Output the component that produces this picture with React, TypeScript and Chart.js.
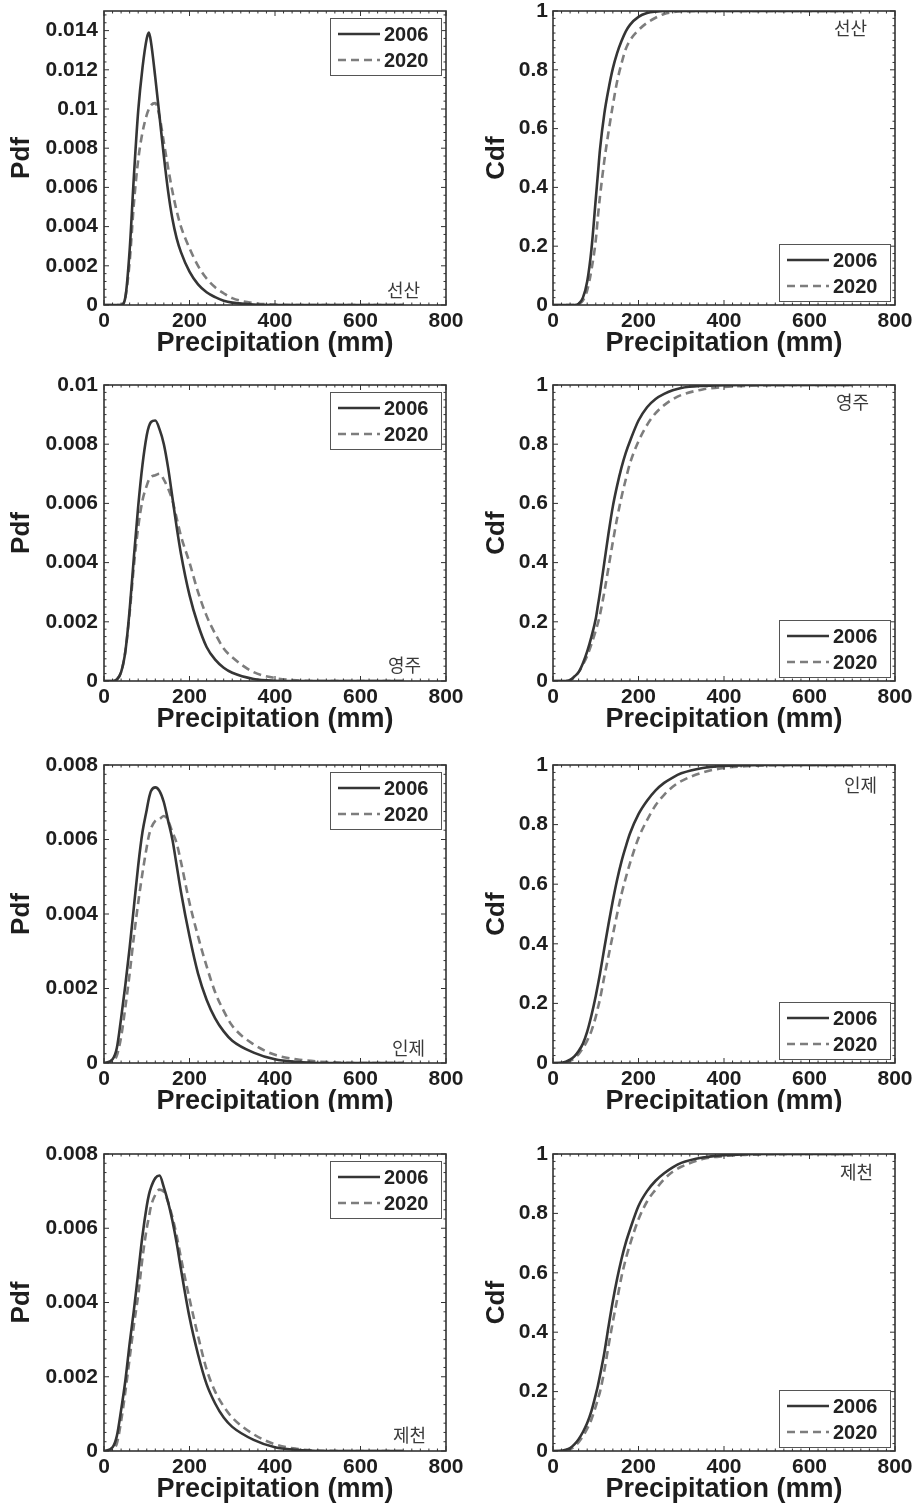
import React, { useEffect, useRef } from "react";
import { Chart, registerables } from "chart.js";

Chart.register(...registerables);

// ---------------- DATA ----------------
const precipitationMm = [0, 20, 30, 40, 50, 60, 70, 80, 90, 100, 105, 110, 120, 130, 140, 150, 160, 170, 180, 200, 220, 240, 260, 280, 300, 350, 400, 450, 500, 600, 700];

const years = ["2006", "2020"];
const stations = ["선산", "영주", "인제", "제천"];

const seonsanPdf2006 = [0, 0, 0, 0, 0.0004, 0.0028, 0.0066, 0.0099, 0.0121, 0.0136, 0.0139, 0.0134, 0.0116, 0.0096, 0.0076, 0.0058, 0.0044, 0.0034, 0.0027, 0.0017, 0.00105, 0.00065, 0.0004, 0.00022, 0.00012, 0.00002, 0, 0, 0, 0, 0];
const seonsanPdf2020 = [0, 0, 0, 0, 0.0004, 0.0022, 0.0052, 0.0074, 0.0088, 0.0097, 0.01, 0.0102, 0.0103, 0.0096, 0.0083, 0.007, 0.0058, 0.0048, 0.004, 0.0029, 0.002, 0.00135, 0.0009, 0.0006, 0.00035, 0.0001, 0.00002, 0, 0, 0, 0];
const seonsanCdf2006 = [0, 0, 0, 0, 0, 0.004, 0.025, 0.08, 0.19, 0.36, 0.445, 0.53, 0.65, 0.735, 0.805, 0.857, 0.897, 0.93, 0.953, 0.98, 0.993, 0.998, 1, 1, 1, 1, 1, 1, 1, 1, 1];
const seonsanCdf2020 = [0, 0, 0, 0, 0, 0.003, 0.015, 0.05, 0.12, 0.22, 0.3, 0.37, 0.49, 0.59, 0.68, 0.76, 0.82, 0.87, 0.9, 0.935, 0.96, 0.977, 0.99, 0.996, 0.999, 1, 1, 1, 1, 1, 1];

const yeongjuPdf2006 = [0, 0, 0.00005, 0.0003, 0.001, 0.0024, 0.0042, 0.0059, 0.0073, 0.0083, 0.0086, 0.00875, 0.0088, 0.0085, 0.008, 0.0072, 0.0062, 0.0052, 0.0043, 0.0029, 0.0019, 0.00115, 0.00072, 0.00045, 0.00028, 0.00007, 0.00001, 0, 0, 0, 0];
const yeongjuPdf2020 = [0, 0, 0.00005, 0.0003, 0.001, 0.0023, 0.0039, 0.0052, 0.0061, 0.0066, 0.0068, 0.0069, 0.00695, 0.007, 0.0068, 0.0065, 0.0061, 0.0055, 0.0049, 0.004, 0.003, 0.0022, 0.0016, 0.0011, 0.0008, 0.0003, 0.0001, 0.00002, 0, 0, 0];
const yeongjuCdf2006 = [0, 0, 0, 0.003, 0.015, 0.03, 0.06, 0.1, 0.15, 0.21, 0.255, 0.3, 0.4, 0.5, 0.59, 0.66, 0.72, 0.77, 0.81, 0.88, 0.925, 0.953, 0.97, 0.982, 0.99, 0.997, 0.999, 1, 1, 1, 1];
const yeongjuCdf2020 = [0, 0, 0, 0.003, 0.013, 0.03, 0.055, 0.085, 0.125, 0.17, 0.195, 0.225, 0.3, 0.385, 0.47, 0.55, 0.62, 0.68, 0.735, 0.81, 0.865, 0.905, 0.932, 0.952, 0.966, 0.985, 0.993, 0.997, 0.999, 1, 1];

const injePdf2006 = [0, 0.0001, 0.0004, 0.0012, 0.0021, 0.0031, 0.0042, 0.0053, 0.0062, 0.0068, 0.0071, 0.0073, 0.0074, 0.0073, 0.007, 0.0065, 0.006, 0.0053, 0.0046, 0.0034, 0.0024, 0.0017, 0.0012, 0.00085, 0.0006, 0.00028, 0.0001, 0.00003, 0, 0, 0];
const injePdf2020 = [0, 0.00005, 0.0002, 0.0007, 0.0015, 0.0024, 0.0034, 0.0043, 0.0051, 0.0058, 0.0061, 0.0063, 0.0065, 0.00655, 0.00663, 0.0065, 0.0062, 0.0059, 0.0054, 0.0043, 0.0034, 0.0026, 0.0019, 0.0014, 0.001, 0.0005, 0.00022, 0.0001, 0.00004, 0, 0];
const injeCdf2006 = [0, 0.001, 0.004, 0.011, 0.022, 0.04, 0.065, 0.105, 0.16, 0.225, 0.262, 0.3, 0.385, 0.467, 0.545, 0.615, 0.675, 0.725, 0.77, 0.835, 0.88, 0.915, 0.94, 0.958, 0.972, 0.99, 0.997, 0.999, 1, 1, 1];
const injeCdf2020 = [0, 0.0005, 0.002, 0.007, 0.016, 0.03, 0.05, 0.075, 0.108, 0.155, 0.185, 0.215, 0.29, 0.36, 0.43, 0.5, 0.565, 0.62, 0.67, 0.755, 0.815, 0.865, 0.9, 0.927, 0.946, 0.975, 0.99, 0.996, 0.999, 1, 1];

const jecheonPdf2006 = [0, 0.0001, 0.0004, 0.0011, 0.0019, 0.0029, 0.0038, 0.0048, 0.0058, 0.0066, 0.0069, 0.0071, 0.00735, 0.00742, 0.0071, 0.0067, 0.0062, 0.0056, 0.0049, 0.0036, 0.0026, 0.0018, 0.00128, 0.0009, 0.00065, 0.0003, 0.0001, 0.00003, 0, 0, 0];
const jecheonPdf2020 = [0, 0.00005, 0.0002, 0.0008, 0.0016, 0.0025, 0.0034, 0.0042, 0.0052, 0.006, 0.0063, 0.0066, 0.0069, 0.00704, 0.00698, 0.0067, 0.0063, 0.0058, 0.0052, 0.0041, 0.0031, 0.0022, 0.0016, 0.0012, 0.0009, 0.00045, 0.00018, 0.00006, 0.00001, 0, 0];
const jecheonCdf2006 = [0, 0.001, 0.004, 0.01, 0.022, 0.04, 0.064, 0.094, 0.135, 0.19, 0.22, 0.255, 0.33, 0.42, 0.505, 0.58, 0.645, 0.7, 0.745, 0.825, 0.875, 0.91, 0.935, 0.955, 0.97, 0.988, 0.996, 0.999, 1, 1, 1];
const jecheonCdf2020 = [0, 0.0005, 0.002, 0.006, 0.015, 0.03, 0.05, 0.075, 0.107, 0.15, 0.175, 0.2, 0.27, 0.355, 0.435, 0.51, 0.585, 0.645, 0.695, 0.78, 0.84, 0.88, 0.915, 0.94, 0.957, 0.983, 0.993, 0.997, 0.999, 1, 1];

const xTicks = [0, 200, 400, 600, 800];
const pdfTicksSeonsan = [0, 0.002, 0.004, 0.006, 0.008, 0.01, 0.012, 0.014];
const pdfTicksYeongju = [0, 0.002, 0.004, 0.006, 0.008, 0.01];
const pdfTicksLow = [0, 0.002, 0.004, 0.006, 0.008];
const cdfTicks = [0, 0.2, 0.4, 0.6, 0.8, 1];

const xTitle = "Precipitation (mm)";

// ---------------- LAYOUT ----------------
const ROW_TOP = [11, 385, 765, 1154];
const ROW_BOTTOM = [305, 681, 1063, 1451];
const COL_PLOT_LEFT = [104, 553];
const COL_PLOT_RIGHT = [446, 895];
const COL_CANVAS_LEFT = [0, 460];
const COL_CANVAS_W = [475, 457];
const ROW_CLIP_BOTTOM = [369, 748, 1112, 1504];
const PAD_TOP = 14;
const X_AXIS_H = 60;

const FONT = "'Liberation Sans', Arial, sans-serif";
const TICK_FONT = { family: FONT, size: 21, weight: "bold" as const };
const SOLID = "#353535";
const DASHED = "#7d7d7d";

type Panel = {
  row: number;
  col: number;
  kind: "pdf" | "cdf";
  station: string;
  s2006: number[];
  s2020: number[];
  yMax: number;
  yTicks: number[];
  yMinor: number;
  labelInset: number;
  labelOffset: number;
};

const panels: Panel[] = [
  { row: 0, col: 0, kind: "pdf", station: stations[0], s2006: seonsanPdf2006, s2020: seonsanPdf2020, yMax: 0.015, yTicks: pdfTicksSeonsan, yMinor: 0.0004, labelInset: 26, labelOffset: 15 },
  { row: 0, col: 1, kind: "cdf", station: stations[0], s2006: seonsanCdf2006, s2020: seonsanCdf2020, yMax: 1, yTicks: cdfTicks, yMinor: 0.025, labelInset: 28, labelOffset: 17 },
  { row: 1, col: 0, kind: "pdf", station: stations[1], s2006: yeongjuPdf2006, s2020: yeongjuPdf2020, yMax: 0.01, yTicks: pdfTicksYeongju, yMinor: 0.00025, labelInset: 25, labelOffset: 16 },
  { row: 1, col: 1, kind: "cdf", station: stations[1], s2006: yeongjuCdf2006, s2020: yeongjuCdf2020, yMax: 1, yTicks: cdfTicks, yMinor: 0.025, labelInset: 26, labelOffset: 17.5 },
  { row: 2, col: 0, kind: "pdf", station: stations[2], s2006: injePdf2006, s2020: injePdf2020, yMax: 0.008, yTicks: pdfTicksLow, yMinor: 0.00025, labelInset: 21, labelOffset: 15 },
  { row: 2, col: 1, kind: "cdf", station: stations[2], s2006: injeCdf2006, s2020: injeCdf2020, yMax: 1, yTicks: cdfTicks, yMinor: 0.025, labelInset: 18, labelOffset: 20.5 },
  { row: 3, col: 0, kind: "pdf", station: stations[3], s2006: jecheonPdf2006, s2020: jecheonPdf2020, yMax: 0.008, yTicks: pdfTicksLow, yMinor: 0.00025, labelInset: 20, labelOffset: 15.5 },
  { row: 3, col: 1, kind: "cdf", station: stations[3], s2006: jecheonCdf2006, s2020: jecheonCdf2020, yMax: 1, yTicks: cdfTicks, yMinor: 0.025, labelInset: 22, labelOffset: 18.5 },
];

function makeFramePlugin(panel: Panel) {
  return {
    id: "matlabFrame",
    afterDatasetsDraw(chart: any) {
      const { ctx, chartArea: a, scales } = chart;
      const xs = scales.x;
      const ys = scales.y;
      const line = (x1: number, y1: number, x2: number, y2: number) => {
        ctx.beginPath();
        ctx.moveTo(x1, y1);
        ctx.lineTo(x2, y2);
        ctx.stroke();
      };
      ctx.save();
      ctx.strokeStyle = "#333";
      ctx.lineWidth = 1;
      const nx = Math.round(800 / 20);
      for (let i = 0; i <= nx; i++) {
        const v = i * 20;
        const major = xTicks.indexOf(v) >= 0;
        const len = major ? 5 : 2.5;
        const p = xs.getPixelForValue(v);
        line(p, a.bottom, p, a.bottom - len);
        line(p, a.top, p, a.top + len);
      }
      const ny = Math.floor(panel.yMax / panel.yMinor + 1e-6);
      for (let i = 0; i <= ny; i++) {
        const v = i * panel.yMinor;
        if (v > panel.yMax + 1e-9) break;
        const major = panel.yTicks.some((t) => Math.abs(t - v) < panel.yMinor / 10);
        const len = major ? 5 : 2.5;
        const p = ys.getPixelForValue(v);
        line(a.left, p, a.left + len, p);
        line(a.right, p, a.right - len, p);
      }
      ctx.lineWidth = 1.6;
      ctx.strokeRect(a.left, a.top, a.right - a.left, a.bottom - a.top);

      // legend
      const LW = 111;
      const LH = 57;
      const bx = a.right - 5 - LW;
      const by = panel.kind === "pdf" ? a.top + 7 : a.bottom - 4 - LH;
      ctx.fillStyle = "#fff";
      ctx.fillRect(bx, by, LW, LH);
      ctx.strokeStyle = "#555";
      ctx.lineWidth = 1;
      ctx.strokeRect(bx + 0.5, by + 0.5, LW, LH);
      chart.data.datasets.forEach((ds: any, i: number) => {
        const y = by + 16 + i * 26;
        ctx.strokeStyle = ds.borderColor;
        ctx.lineWidth = ds.borderWidth;
        ctx.setLineDash(ds.borderDash || []);
        line(bx + 8, y, bx + 50, y);
        ctx.setLineDash([]);
        ctx.fillStyle = "#222";
        ctx.font = `bold 20px ${FONT}`;
        ctx.textAlign = "left";
        ctx.textBaseline = "middle";
        ctx.fillText(ds.label, bx + 54, y + 1);
      });

      // station label
      ctx.fillStyle = "#3a3a3a";
      ctx.font = "18px 'Noto Sans CJK KR', sans-serif";
      ctx.textAlign = "right";
      ctx.textBaseline = "middle";
      const ly = panel.kind === "pdf" ? a.bottom - panel.labelOffset : a.top + panel.labelOffset;
      ctx.fillText(panel.station, a.right - panel.labelInset, ly);
      ctx.restore();
    },
  };
}

function PanelChart({ panel }: { panel: Panel }) {
  const ref = useRef<HTMLCanvasElement>(null);
  const T = ROW_TOP[panel.row];
  const B = ROW_BOTTOM[panel.row];
  const canvasTop = T - PAD_TOP;
  const canvasLeft = COL_CANVAS_LEFT[panel.col];
  const W = COL_CANVAS_W[panel.col];
  const H = B - T + PAD_TOP + X_AXIS_H + 2;
  const clipH = Math.min(H, ROW_CLIP_BOTTOM[panel.row] - canvasTop);
  const yAxisW = COL_PLOT_LEFT[panel.col] - canvasLeft;
  const rightPad = W - (COL_PLOT_RIGHT[panel.col] - canvasLeft);

  useEffect(() => {
    if (!ref.current) return;
    const mk = (vals: number[]) => precipitationMm.map((x, i) => ({ x, y: vals[i] }));
    const chart = new Chart(ref.current, {
      type: "line",
      data: {
        datasets: [
          { label: years[0], data: mk(panel.s2006), borderColor: SOLID, borderWidth: 2.6, pointRadius: 0, fill: false, cubicInterpolationMode: "monotone" },
          { label: years[1], data: mk(panel.s2020), borderColor: DASHED, borderWidth: 2.6, borderDash: [8, 5], pointRadius: 0, fill: false, cubicInterpolationMode: "monotone" },
        ],
      } as any,
      options: {
        responsive: false,
        animation: false,
        devicePixelRatio: 1,
        layout: { padding: { top: PAD_TOP, left: 0, right: rightPad, bottom: 2 } },
        plugins: { legend: { display: false }, tooltip: { enabled: false } },
        scales: {
          x: {
            type: "linear",
            min: 0,
            max: 800,
            grid: { display: false, drawTicks: false },
            border: { display: false },
            afterBuildTicks: (s: any) => {
              s.ticks = xTicks.map((v) => ({ value: v }));
            },
            afterFit: (s: any) => {
              s.height = X_AXIS_H;
              s.paddingLeft = 0;
              s.paddingRight = 0;
            },
            ticks: { font: TICK_FONT, color: "#1e1e1e", padding: 4, maxRotation: 0, autoSkip: false, includeBounds: false, callback: (v: any) => String(v) },
            title: { display: true, text: xTitle, font: { family: FONT, size: 27, weight: "bold" }, color: "#1e1e1e", padding: { top: 0, bottom: 5 } },
          },
          y: {
            type: "linear",
            min: 0,
            max: panel.yMax,
            grid: { display: false, drawTicks: false },
            border: { display: false },
            afterBuildTicks: (s: any) => {
              s.ticks = panel.yTicks.map((v) => ({ value: v }));
            },
            afterFit: (s: any) => {
              s.width = yAxisW;
              s.paddingTop = 0;
              s.paddingBottom = 0;
            },
            ticks: { font: TICK_FONT, color: "#1e1e1e", padding: panel.col === 0 ? 6 : 5, autoSkip: false, includeBounds: false, callback: (v: any) => String(v) },
            title: { display: true, text: panel.kind === "pdf" ? "Pdf" : "Cdf", font: { family: FONT, size: 26, weight: "bold" }, color: "#1e1e1e", padding: { top: panel.col === 0 ? 6 : 21, bottom: 0 } },
          },
        },
      } as any,
      plugins: [makeFramePlugin(panel)],
    });
    return () => chart.destroy();
  }, []);

  return (
    <div style={{ position: "absolute", left: canvasLeft, top: canvasTop, width: W, height: clipH, overflow: "hidden" }}>
      <canvas ref={ref} width={W} height={H} style={{ display: "block", width: W, height: H }} />
    </div>
  );
}

export default function App() {
  return (
    <div style={{ position: "absolute", left: 0, top: 0, width: 917, height: 1504, overflow: "hidden", background: "#fff" }}>
      {panels.map((p, i) => (
        <PanelChart key={i} panel={p} />
      ))}
    </div>
  );
}
